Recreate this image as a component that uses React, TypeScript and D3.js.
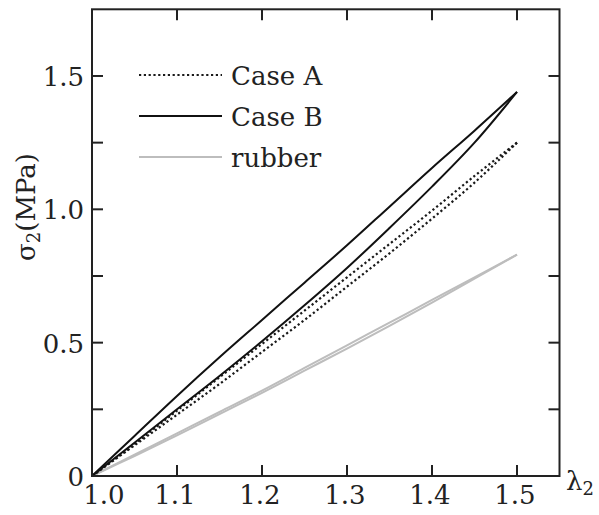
import React, { createRef, Component } from 'react';
import * as d3 from 'd3';

// stretch ratio lambda_2 at which the curves are sampled
const lambda = [1.0, 1.05, 1.1, 1.15, 1.2, 1.25, 1.3, 1.35, 1.4, 1.45, 1.5];

// sigma_2 (MPa), loading and unloading branches
const caseALoad = [0, 0.12, 0.245, 0.37, 0.495, 0.62, 0.745, 0.87, 0.995, 1.125, 1.25];
const caseAUnload = [0, 0.115, 0.23, 0.345, 0.465, 0.585, 0.71, 0.835, 0.965, 1.1, 1.25];
const caseBLoad = [0, 0.15, 0.3, 0.445, 0.585, 0.725, 0.865, 1.01, 1.155, 1.295, 1.44];
const caseBUnload = [0, 0.125, 0.25, 0.375, 0.505, 0.64, 0.78, 0.93, 1.085, 1.25, 1.44];
const rubberLoad = [0, 0.08, 0.16, 0.24, 0.32, 0.405, 0.49, 0.575, 0.66, 0.745, 0.83];
const rubberUnload = [0, 0.075, 0.152, 0.232, 0.312, 0.395, 0.478, 0.563, 0.65, 0.74, 0.83];

const xTicks = [1.0, 1.1, 1.2, 1.3, 1.4, 1.5];
const yTicks = [0, 0.25, 0.5, 0.75, 1.0, 1.25, 1.5];
const yLabels = ['0', '', '0.5', '', '1.0', '', '1.5'];
const legendNames = ['Case A', 'Case B', 'rubber'];

const W = 599;
const H = 515;
const font = 'DejaVu Serif';

class StressChart extends Component {
  ref = createRef<SVGSVGElement>();

  componentDidMount() {
    const svg = d3.select(this.ref.current);
    svg.selectAll('*').remove();

    const x = d3.scaleLinear().domain([1.0, 1.55]).range([92, 559.5]);
    const y = d3.scaleLinear().domain([0, 1.75]).range([476, 9.3]);

    const line = (vals: number[], back: boolean) => {
      const pts = lambda.map((l, i) => [x(l), y(vals[i])] as [number, number]);
      if (back) pts.reverse();
      return d3.line().curve(d3.curveCatmullRom)(pts) as string;
    };

    const series = [
      { load: rubberLoad, unload: rubberUnload, color: '#bdbdbd', width: 2, dash: null },
      { load: caseALoad, unload: caseAUnload, color: '#1a1a1a', width: 2.2, dash: '2.2,2.6' },
      { load: caseBLoad, unload: caseBUnload, color: '#111', width: 2, dash: null },
    ];

    const g = svg.append('g');
    series.forEach(s => {
      [line(s.load, false), line(s.unload, true)].forEach(d => {
        g.append('path')
          .attr('d', d)
          .attr('fill', 'none')
          .attr('stroke', s.color)
          .attr('stroke-width', s.width)
          .attr('stroke-dasharray', s.dash);
      });
    });

    // frame
    const [x0, x1] = x.range();
    const [y0, y1] = y.range();
    svg.append('rect')
      .attr('x', x0).attr('y', y1)
      .attr('width', x1 - x0).attr('height', y0 - y1)
      .attr('fill', 'none').attr('stroke', '#222').attr('stroke-width', 2);

    // inward ticks on all four sides
    const tl = 11;
    const ticks = svg.append('g').attr('stroke', '#222').attr('stroke-width', 2);
    xTicks.forEach(t => {
      ticks.append('line').attr('x1', x(t)).attr('x2', x(t)).attr('y1', y0).attr('y2', y0 - tl);
      ticks.append('line').attr('x1', x(t)).attr('x2', x(t)).attr('y1', y1).attr('y2', y1 + tl);
    });
    yTicks.forEach(t => {
      ticks.append('line').attr('x1', x0).attr('x2', x0 + tl).attr('y1', y(t)).attr('y2', y(t));
      ticks.append('line').attr('x1', x1).attr('x2', x1 - tl).attr('y1', y(t)).attr('y2', y(t));
    });

    const labels = svg.append('g').attr('fill', '#222');
    const txt = (sel: any) => sel.append('text').style('font-family', font).attr('font-size', 26);

    xTicks.forEach((t, i) => {
      txt(labels)
        .attr('x', x(t) + (i === 0 ? 12 : -2))
        .attr('y', 504)
        .attr('text-anchor', 'middle')
        .text(d3.format('.1f')(t));
    });
    yTicks.forEach((t, i) => {
      if (!yLabels[i]) return;
      txt(labels)
        .attr('x', 84)
        .attr('y', y(t) + 10)
        .attr('text-anchor', 'end')
        .text(yLabels[i]);
    });

    // axis titles
    const xt = txt(labels).attr('x', 566).attr('y', 490);
    xt.append('tspan').text('λ');
    xt.append('tspan').attr('font-size', 18).attr('dy', 5).text('2');

    const yt = txt(labels)
      .attr('transform', 'translate(35,207) rotate(-90)')
      .attr('text-anchor', 'middle');
    yt.append('tspan').text('σ');
    yt.append('tspan').attr('font-size', 18).attr('dy', 5).text('2');
    yt.append('tspan').attr('dy', -5).text('(MPa)');

    // legend
    const legendStyle = [series[1], series[2], series[0]];
    legendNames.forEach((name, i) => {
      const ly = 75 + i * 41;
      const s = legendStyle[i];
      svg.append('line')
        .attr('x1', 139).attr('x2', 222).attr('y1', ly).attr('y2', ly)
        .attr('stroke', s.color).attr('stroke-width', s.width)
        .attr('stroke-dasharray', s.dash);
      txt(labels).attr('x', 231).attr('y', ly + 10).text(name);
    });
  }

  render() {
    return (
      <svg
        ref={this.ref}
        width={W}
        height={H}
        style={{ position: 'absolute', left: 0, top: 0, background: '#fff' }}
      />
    );
  }
}

export default function App() {
  return <StressChart />;
}
